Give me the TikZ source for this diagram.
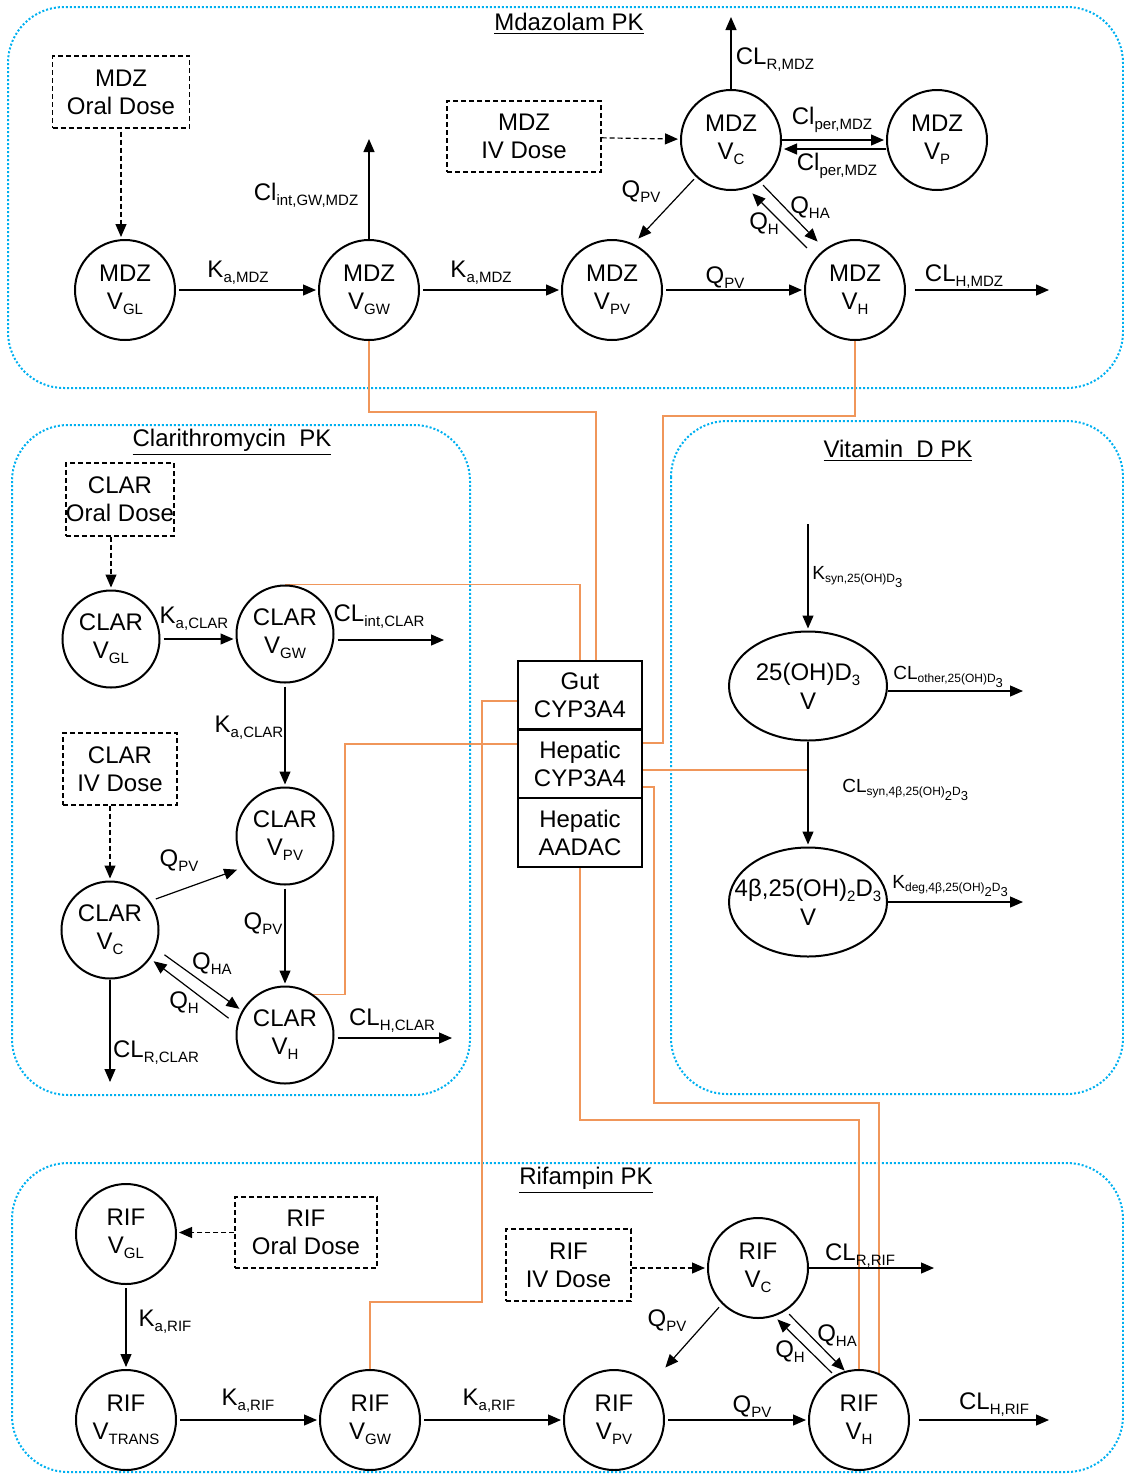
\documentclass[tikz,border=0pt]{standalone}
\usepackage{fontspec}
\setmainfont{Liberation Sans}
\usetikzlibrary{arrows.meta,calc,shapes.geometric,backgrounds}
\definecolor{boxblue}{RGB}{0,176,240}
\definecolor{enzorange}{RGB}{240,150,90}
\newcommand{\sbs}[1]{\raisebox{-0.4ex}{\fontsize{7.5}{8}\selectfont #1}}
\newcommand{\vsubA}[1]{\raisebox{-0.3ex}{\fontsize{6}{7}\selectfont #1}}
\newcommand{\vsubB}[1]{\raisebox{-0.9ex}{\fontsize{6.5}{7}\selectfont #1}}
\begin{document}
\begin{tikzpicture}[x=0.5pt,y=-0.5pt,
  comp/.style={circle,draw,line width=1pt,minimum size=50pt,inner sep=0pt,align=center,font=\fontsize{12}{14}\selectfont},
  ccomp/.style={comp,minimum size=48.5pt},
  vcomp/.style={ellipse,draw,line width=1pt,minimum width=79pt,minimum height=54.5pt,inner sep=0pt},
  vtext/.style={inner sep=0pt,align=center,font=\fontsize{12}{14.5}\selectfont},
  dose/.style={draw,dash pattern=on 2.5pt off 1.5pt,line width=0.6pt,align=center,inner sep=0pt,font=\fontsize{12}{14}\selectfont},
  enzbox/.style={draw,line width=1pt,minimum width=62pt,minimum height=34.5pt,inner sep=0pt,align=center,font=\fontsize{12}{14}\selectfont},
  lab/.style={inner sep=0pt,font=\fontsize{12}{14}\selectfont},
  vlab/.style={inner sep=0pt,anchor=west,font=\fontsize{9.5}{11}\selectfont},
  ttl/.style={inner sep=0pt,font=\fontsize{12}{14}\selectfont},
  arr/.style={-{Triangle[length=6.5pt,width=5.5pt]},line width=0.6pt,shorten <=1.5pt,shorten >=1pt},
  dasharr/.style={arr,dash pattern=on 2.5pt off 1.5pt},
  cont/.style={draw=boxblue,line width=1pt,dash pattern=on 1pt off 1pt,rounded corners=28pt},
  enz/.style={draw=enzorange,line width=0.75pt}
]
\useasboundingbox (0,0) rectangle (1124,1474);

% ---------------- Midazolam ----------------
\node[ttl] (mTitle) at (569,24) {\underline{Mdazolam PK}};
\node[comp] (mVGL) at (125,290) {MDZ\\V\sbs{GL}};
\node[comp] (mVGW) at (369,290) {MDZ\\V\sbs{GW}};
\node[comp] (mVPV) at (612,290) {MDZ\\V\sbs{PV}};
\node[comp] (mVH)  at (855,290) {MDZ\\V\sbs{H}};
\node[comp] (mVC)  at (731,140) {MDZ\\V\sbs{C}};
\node[comp] (mVP)  at (937,140) {MDZ\\V\sbs{P}};
\node[dose,minimum width=68.5pt,minimum height=36pt] (mOral) at (121,92) {MDZ\\Oral Dose};
\node[dose,minimum width=77pt,minimum height=35.5pt] (mIV) at (524,136.5) {MDZ\\IV Dose};
\coordinate (mCLHend) at (1051,290);
\coordinate (mCLRend) at (731,15);
\coordinate (mCLintend) at (369,137);

\draw[dasharr] (mOral.south) -- (mOral.south |- mVGL.north);
\draw[arr] (mVGL) -- (mVGW);
\draw[arr] (mVGW) -- (mVPV);
\draw[arr] (mVPV) -- (mVH);
\draw[arr,shorten <=4.5pt] (mVH) -- (mCLHend);
\draw[arr,shorten <=0pt] (mVC) -- (mCLRend);
\draw[arr,shorten <=0pt] (mVGW) -- (mCLintend);
\draw[dasharr,shorten <=0pt] (mIV) -- (mVC);
\draw[arr,shorten <=0pt] (mVC.east) -- (mVP.west);
\draw[arr,shorten <=0pt] ([yshift=-4.5pt]mVP.west) -- ([yshift=-4.5pt]mVC.east);
\draw[arr] ($(mVC)+(-35,37)$) -- ($(mVPV)+(25,-50)$);
\draw[arr] ($(mVC)+(30,43)$) -- ($(mVH)+(-36,-47)$);
\draw[arr] ($(mVH)+(-46,-40)$) -- ($(mVC)+(20,52)$);

\node[lab] (mLka1) at (238,273) {K\sbs{a,MDZ}};
\node[lab] (mLka2) at (481,273) {K\sbs{a,MDZ}};
\node[lab] (mLqpv2) at (725,278) {Q\sbs{PV}};
\node[lab] (mLclh) at (964,277) {CL\sbs{H,MDZ}};
\node[lab] (mLclint) at (306,195) {Cl\sbs{int,GW,MDZ}};
\node[lab] (mLclr) at (775,60) {CL\sbs{R,MDZ}};
\node[lab] (mLper1) at (832,120) {Cl\sbs{per,MDZ}};
\node[lab] (mLper2) at (837,166) {Cl\sbs{per,MDZ}};
\node[lab] (mLqpv1) at (641,192) {Q\sbs{PV}};
\node[lab] (mLqha) at (810,208) {Q\sbs{HA}};
\node[lab] (mLqh) at (764,224) {Q\sbs{H}};

% ---------------- Clarithromycin ----------------
\node[ttl] (cTitle) at (232,442) {\underline{Clarithromycin\ \ PK}};
\node[ccomp] (cVGL) at (111,639) {CLAR\\V\sbs{GL}};
\node[ccomp] (cVGW) at (285,634) {CLAR\\V\sbs{GW}};
\node[ccomp] (cVPV) at (285,836) {CLAR\\V\sbs{PV}};
\node[ccomp] (cVC)  at (110,930) {CLAR\\V\sbs{C}};
\node[ccomp] (cVH)  at (285,1035) {CLAR\\V\sbs{H}};
\node[dose,minimum width=52pt,minimum height=36.5pt] (cOral) at (120,499.5) {CLAR\\Oral Dose};
\node[dose,minimum width=57pt,minimum height=36pt] (cIV) at (120,769) {CLAR\\IV Dose};
\coordinate (cCLintend) at (446,640);
\coordinate (cCLRend) at (110,1084);
\coordinate (cCLHend) at (454,1038);

\draw[dasharr,shorten <=0pt] (cOral.south -| cVGL.north) -- (cVGL.north);
\draw[dasharr,shorten <=0pt] (cIV.south -| cVC.north) -- (cVC.north);
\draw[arr] (cVGL.east) -- (cVGL.east -| cVGW.west);
\draw[arr] ([yshift=-3pt]cVGW.east) -- (cCLintend);
\draw[arr] (cVGW) -- (cVPV);
\draw[arr] (cVPV) -- (cVH);
\draw[arr] ($(cVC)+(43,-30)$) -- ($(cVPV)+(-46,33)$);
\draw[arr] ($(cVC)+(52,23)$) -- ($(cVH)+(-44,-25)$);
\draw[arr] ($(cVH)+(-54,-15)$) -- ($(cVC)+(42,30)$);
\draw[arr,shorten <=0pt] (cVC) -- (cCLRend);
\draw[arr] ([yshift=-1.5pt]cVH.east) -- (cCLHend);

\node[lab] (cLka1) at (194,619) {K\sbs{a,CLAR}};
\node[lab] (cLclint) at (379,617) {CL\sbs{int,CLAR}};
\node[lab] (cLka2) at (249,728) {K\sbs{a,CLAR}};
\node[lab] (cLqpv1) at (179,861) {Q\sbs{PV}};
\node[lab] (cLqpv2) at (263,924) {Q\sbs{PV}};
\node[lab] (cLqha) at (212,964) {Q\sbs{HA}};
\node[lab] (cLqh) at (184,1003) {Q\sbs{H}};
\node[lab] (cLclr) at (156,1053) {CL\sbs{R,CLAR}};
\node[lab] (cLclh) at (392,1021) {CL\sbs{H,CLAR}};

% ---------------- Enzymes ----------------
\node[enzbox] (gut) at (580,695) {Gut\\CYP3A4};
\node[enzbox] (hcyp) at (580,763.5) {Hepatic\\CYP3A4};
\node[enzbox] (aadac) at (580,832.5) {Hepatic\\AADAC};

% ---------------- Vitamin D ----------------
\node[ttl] (vTitle) at (898,451) {\underline{Vitamin\ \ D PK}};
\node[vcomp] (vd1) at (808,686) {};
\node[vtext] (vd1t) at (vd1) {25(OH)D\sbs{3}\\V};
\node[vcomp] (vd2) at (808,902) {};
\node[vtext] (vd2t) at (vd2) {4β,25(OH)\sbs{2}D\sbs{3}\\V};
\coordinate (vdIn) at (808,524);
\coordinate (vdOth) at (1025,691);
\coordinate (vdDeg) at (1025,902);
\draw[arr,shorten <=0pt] (vdIn) -- (vd1.north);
\draw[arr,shorten <=0pt] ([yshift=-2.5pt]vd1.east) -- (vdOth);
\draw[arr,shorten <=0pt] (vd1.south) -- (vd2.north);
\draw[arr,shorten <=0pt] (vd2.east) -- (vdDeg);
\node[vlab] (vLsyn) at (812,577) {K\vsubA{syn,25(OH)D\vsubB{3}}};
\node[vlab] (vLoth) at (893,677) {CL\vsubA{other,25(OH)D\vsubB{3}}};
\node[vlab] (vLcls) at (842,790) {CL\vsubA{syn,4β,25(OH)\vsubB{2}D\vsubB{3}}};
\node[vlab] (vLdeg) at (892,886) {K\vsubA{deg,4β,25(OH)\vsubB{2}D\vsubB{3}}};

% ---------------- Rifampin ----------------
\node[ttl] (rTitle) at (586,1180) {\underline{Rifampin PK}};
\node[comp] (rVGL) at (126,1234) {RIF\\V\sbs{GL}};
\node[comp] (rVTR) at (126,1420) {RIF\\V\sbs{TRANS}};
\node[comp] (rVGW) at (370,1420) {RIF\\V\sbs{GW}};
\node[comp] (rVPV) at (614,1420) {RIF\\V\sbs{PV}};
\node[comp] (rVH)  at (859,1420) {RIF\\V\sbs{H}};
\node[comp] (rVC)  at (758,1268) {RIF\\V\sbs{C}};
\node[dose,minimum width=71pt,minimum height=35.5pt] (rOral) at (306,1232.5) {RIF\\Oral Dose};
\node[dose,minimum width=62.5pt,minimum height=36pt] (rIV) at (568.5,1265) {RIF\\IV Dose};
\coordinate (rCLHend) at (1051,1420);
\coordinate (rCLRend) at (936,1268);

\draw[dasharr,shorten <=0pt] (rOral.west) -- (rOral.west -| rVGL.east);
\draw[arr] (rVGL) -- (rVTR);
\draw[arr] (rVTR) -- (rVGW);
\draw[arr] (rVGW) -- (rVPV);
\draw[arr] (rVPV) -- (rVH);
\draw[arr,shorten <=4.5pt] (rVH) -- (rCLHend);
\draw[dasharr,shorten <=0pt] (rIV.east |- rVC.west) -- (rVC.west);
\draw[arr,shorten <=0pt] (rVC) -- (rCLRend);
\draw[arr] ($(rVC)+(-37,37)$) -- ($(rVPV)+(50,-51)$);
\draw[arr] ($(rVC)+(29,44)$) -- ($(rVH)+(-13,-48)$);
\draw[arr] ($(rVH)+(-25,-45)$) -- ($(rVC)+(18,50)$);

\node[lab] (rLka1) at (165,1322) {K\sbs{a,RIF}};
\node[lab] (rLka2) at (248,1401) {K\sbs{a,RIF}};
\node[lab] (rLka3) at (489,1401) {K\sbs{a,RIF}};
\node[lab] (rLqpv2) at (752,1407) {Q\sbs{PV}};
\node[lab] (rLclh) at (994,1405) {CL\sbs{H,RIF}};
\node[lab] (rLclr) at (860,1256) {CL\sbs{R,RIF}};
\node[lab] (rLqpv1) at (667,1321) {Q\sbs{PV}};
\node[lab] (rLqha) at (837,1336) {Q\sbs{HA}};
\node[lab] (rLqh) at (790,1352) {Q\sbs{H}};

% ---------------- background: containers and enzyme links ----------------
\begin{pgfonlayer}{background}
\draw[cont] (8,7) rectangle (1123,388);
\draw[cont] (12,425) rectangle (470,1095);
\draw[cont] (671,421) rectangle (1123,1094);
\draw[cont] (12,1163) rectangle (1123,1472);

\draw[enz] (mVGW.south) -- ++(0,71) -| ([xshift=8pt]gut.north);
\draw[enz] (mVH.south) -- ++(0,75) -| ([xshift=10pt,yshift=10.25pt]hcyp.east) -- ([yshift=10.25pt]hcyp.east);
\draw[enz] (cVGW.north) -| (gut.north);
\draw[enz] ([yshift=-3pt]gut.west) -| (482,1302) -| (rVGW.north);
\draw[enz] (cVH.55) -| (345,744) -- ([yshift=9.75pt]hcyp.west);
\coordinate (o6) at ([yshift=-3.25pt]hcyp.east);
\draw[enz] (o6) -- (o6 -| vd1.south);
\draw[enz] ([yshift=-11.75pt]hcyp.east) -| (654,1103) -| (rVH.67);
\draw[enz] (aadac.south) -- ++(0,252) -| (rVH.north);
\end{pgfonlayer}
\end{tikzpicture}
\end{document}
